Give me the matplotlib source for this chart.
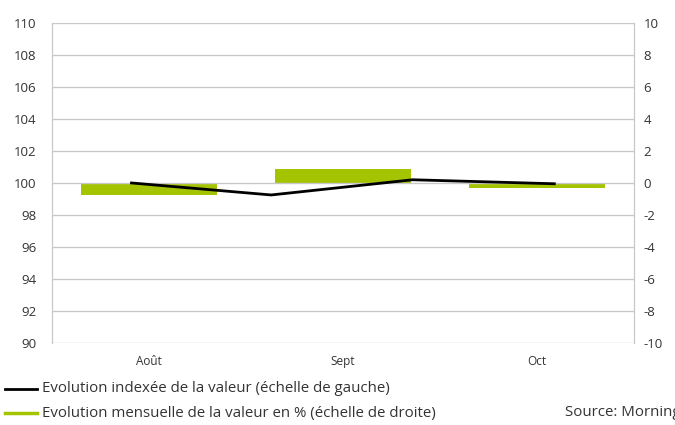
import matplotlib.pyplot as plt

plt.rcParams['font.family'] = ['Open Sans', 'DejaVu Sans']
plt.rcParams['axes.unicode_minus'] = False

months = ['Août', 'Sept', 'Oct']
monthly_pct = [-0.75, 0.9, -0.3]          # right axis, %
line_pos = [-0.09, 0.63, 1.36, 2.09]      # position along month axis
line_idx = [100.0, 99.25, 100.2, 99.95]   # left axis, index

fig = plt.figure(figsize=(6.75, 4.25), dpi=100)
ax = fig.add_axes([0.077, 0.193, 0.862, 0.753])
ax2 = ax.twinx()

grey = '#c8c8c8'
txt = '#333333'

ax2.bar(range(len(months)), monthly_pct, width=0.70, color='#a5c400', zorder=2)
ax2.set_ylim(-10, 10)
ax2.set_yticks(range(-10, 11, 2))

ax.plot(line_pos, line_idx, color='black', lw=2, zorder=5)
ax.set_ylim(90, 110)
ax.set_yticks(range(90, 111, 2))
ax.set_xlim(-0.5, 2.5)
ax.set_xticks(range(len(months)))
ax.set_xticklabels(months)
ax.set_zorder(ax2.get_zorder() + 1)
ax.patch.set_visible(False)

ax.grid(axis='y', color=grey, lw=1)
ax.set_axisbelow(True)
for a in (ax, ax2):
    for s in ('top', 'bottom'):
        a.spines[s].set_visible(False)
    a.spines['left'].set_color(grey)
    a.spines['right'].set_color(grey)
    a.tick_params(length=0, labelsize=9.5, colors=txt)
ax.tick_params(axis='x', labelsize=8.5, pad=9)
ax.tick_params(axis='y', pad=11)
ax2.tick_params(axis='y', pad=7)

# legend drawn by hand below
fig.add_artist(plt.Line2D([5/675, 37/675], [1-389/425]*2, color='black', lw=2))
fig.add_artist(plt.Line2D([5/675, 37/675], [1-413/425]*2, color='#a5c400', lw=2.5))
fig.text(42/675, 1-389/425, 'Evolution indexée de la valeur (échelle de gauche)',
         va='center', fontsize=10.8, color=txt)
fig.text(42/675, 1-413/425, 'Evolution mensuelle de la valeur en % (échelle de droite)',
         va='center', fontsize=10.8, color=txt)
fig.text(565/675, 1-413/425, 'Source: Morningstar', va='center', fontsize=10.8, color=txt)

fig.savefig('out.png', dpi=100)
